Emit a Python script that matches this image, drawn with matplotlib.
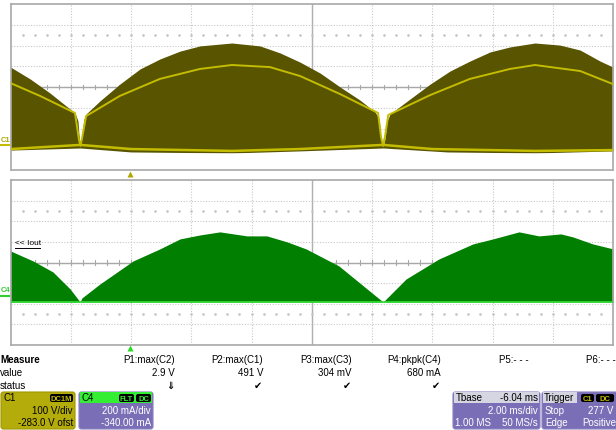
import matplotlib.pyplot as plt
from matplotlib.patches import FancyBboxPatch, Rectangle

plt.rcParams['font.family'] = ['Liberation Sans', 'DejaVu Sans']

# C1 (top): time in ms, voltage in V
c1_t = [0, 0.65, 1.31, 1.81, 2.14, 2.24, 2.27, 2.32, 2.37, 2.44, 2.51, 2.97, 3.63, 4.30,
        4.96, 5.63, 6.29, 7.35, 8.28, 8.95, 9.61, 10.28, 10.94, 11.60, 12.10, 12.24, 12.30,
        12.37, 12.43, 12.50, 12.60, 13.26, 13.93, 14.59, 15.25, 15.92, 16.58, 17.41, 18.24,
        18.91, 19.57, 20.0]
c1_hi = [379, 322, 254, 196, 158, 119, 57, -1, 57, 129, 153, 216, 297, 370,
         418, 456, 481, 495, 481, 447, 403, 350, 283, 220, 163, 129, 32,
         -1, 32, 119, 153, 225, 297, 360, 408, 452, 476, 495, 485,
         461, 408, 379]
c1_lo_t = [0, 2.32, 4.0, 7.35, 9.6, 12.37, 14.5, 17.41, 20.0]
c1_lo = [-21, -11, -30, -35, -25, -11, -30, -35, -25]
c1_avg_t = [0, 0.98, 2.14, 2.27, 2.32, 2.37, 2.51, 3.63, 4.96, 6.29, 7.35, 8.61, 9.61,
            10.94, 12.20, 12.30, 12.37, 12.43, 12.54, 13.93, 15.25, 16.58, 17.41, 18.91, 20.0]
c1_avg = [302, 240, 158, 32, -1, 32, 143, 240, 322, 370, 389, 379, 336,
          249, 158, 42, -1, 42, 148, 244, 322, 370, 389, 360, 297]
c1_base_t = [0, 2.32, 4.0, 7.35, 9.6, 12.37, 14.0, 17.41, 20.0]
c1_base = [-16, 4, -16, -25, -16, 4, -16, -25, -21]

# C4 (bottom): time in ms, current in mA
c4_t = [0, 0.75, 1.41, 1.98, 2.31, 2.37, 2.97, 4.07, 4.96, 5.63, 6.29, 6.95, 7.85, 8.51,
        9.18, 9.81, 10.90, 11.96, 12.37, 12.60, 13.13, 14.22, 15.35, 16.02, 16.88, 17.54,
        18.27, 18.67, 19.33, 20.0]
c4_hi = [495, 398, 291, 126, 0, 39, 175, 398, 515, 612, 650, 680, 641, 641,
         583, 515, 350, 97, 0, 68, 223, 417, 563, 612, 680, 641,
         660, 631, 563, 515]

measure_names = ['P1:max(C2)', 'P2:max(C1)', 'P3:max(C3)', 'P4:pkpk(C4)', 'P5:- - -', 'P6:- - -']
measure_values = ['2.9 V', '491 V', '304 mV', '680 mA', '', '']
measure_status = ['⇓', '✔', '✔', '✔', '', '']

W, H = 616, 431
fig = plt.figure(figsize=(W / 100, H / 100), dpi=100)


def rect(x0, y0, x1, y1):
    return [x0 / W, 1 - y1 / H, (x1 - x0) / W, (y1 - y0) / H]


olive = '#585400'
yellow = '#c4bc00'
green = '#007f00'
grid_c = '#c8c8c8'
frame_c = '#a8a8a8'


def scope_axes(r, ylim):
    ax = fig.add_axes(rect(*r))
    ax.set_xlim(0, 20)
    ax.set_ylim(*ylim)
    ax.set_xticks([])
    ax.set_yticks([])
    for s in ax.spines.values():
        s.set_color(frame_c)
        s.set_linewidth(1.2)
    y0, y1 = ylim
    dy = (y1 - y0) / 8
    for k in range(1, 10):
        ax.axvline(k * 2, color=grid_c, lw=0.8, ls=(0, (1, 1.5)), zorder=0)
    for k in range(1, 8):
        ax.axhline(y0 + k * dy, color=grid_c, lw=0.8, ls=(0, (1, 1.5)), zorder=0)
    yc = (y0 + y1) / 2
    ax.axhline(yc, color='#a8a8a8', lw=1, zorder=0)
    ax.axvline(10, color='#b0b0b0', lw=1, zorder=0)
    # minor ticks on the centre line
    for k in range(1, 50):
        ax.plot([k * 0.4, k * 0.4], [yc - dy * 0.1, yc + dy * 0.1], color='#a8a8a8', lw=0.8, zorder=0)
    for yy in (yc - 2.5 * dy, yc + 2.5 * dy):
        ax.plot([k * 0.4 for k in range(1, 50)], [yy] * 49, ls='none', marker='s',
                ms=0.8, color='#c4c4c4', zorder=0)
    return ax


ax1 = scope_axes((10.5, 5, 613, 171), (-117, 683))
ax1.fill_between(c1_t, c1_hi, [min(c1_lo)] * len(c1_t), color=olive, lw=0, zorder=2)
ax1.plot(c1_avg_t, c1_avg, color=yellow, lw=1.4, zorder=3)
ax1.plot(c1_base_t, c1_base, color=yellow, lw=1.8, zorder=3)
# white below the lower envelope
ax1.fill_between(c1_lo_t, c1_lo, [-117] * len(c1_lo_t), color='white', lw=0, zorder=2.5)

ax2 = scope_axes((10.5, 181, 613, 346), (-417, 1183))
ax2.fill_between(c4_t, c4_hi, 0, color=green, lw=0, zorder=2)
ax2.axhline(0, color='#33dd33', lw=1.2, zorder=3)

# overlay for labels and readout boxes
ov = fig.add_axes([0, 0, 1, 1], zorder=10)
ov.set_xlim(0, W)
ov.set_ylim(H, 0)
ov.axis('off')

ov.text(1, 141, 'C1', color='#b0a800', fontsize=5.5, fontweight='bold', va='center')
ov.plot([0, 9], [146, 146], color='#c4bc00', lw=1.5)
ov.text(1, 291, 'C4', color='#33cc33', fontsize=5.5, fontweight='bold', va='center')
ov.plot([0, 9], [297, 297], color='#33cc33', lw=1.5)
ov.text(15, 247, '<< Iout', fontsize=6, va='bottom')
ov.plot([15, 40], [248.5, 248.5], color='black', lw=0.7)
ov.plot([130], [174.5], marker='^', ms=5, color='#b0a800', mec='none')
ov.plot([130], [349], marker='^', ms=5, color='#22dd22', mec='none')

fs = 7
ov.text(0, 360, 'Measure', fontsize=fs, fontweight='bold', va='center')
ov.text(0, 373, 'value', fontsize=fs, va='center')
ov.text(0, 386, 'status', fontsize=fs, va='center')
col_x = [175, 263, 352, 441, 529, 616]
for x, name, val, st in zip(col_x, measure_names, measure_values, measure_status):
    ov.text(x, 360, name, fontsize=fs, ha='right', va='center')
    ov.text(x, 373, val, fontsize=fs, ha='right', va='center')
    ov.text(x - 5, 386, st, fontsize=fs, ha='center', va='center', fontweight='bold')


def panel(x0, x1, body, edge, header=None, hx1=None):
    ov.add_patch(FancyBboxPatch((x0, 393), x1 - x0, 37, boxstyle='round,pad=0,rounding_size=2.5',
                                fc=body, ec=edge, lw=0.8))
    if header:
        ov.add_patch(Rectangle((x0 + 1, 393.5), (hx1 or x1) - x0 - 2, 10.5, fc=header, ec='none'))


def badge(x0, x1, txt, color):
    ov.add_patch(FancyBboxPatch((x0, 395), x1 - x0, 8, boxstyle='round,pad=0,rounding_size=2',
                                fc='black', ec='none'))
    ov.text((x0 + x1) / 2, 399.3, txt, fontsize=5.5, color=color, ha='center', va='center',
            fontweight='bold')


panel(1, 75, '#b4ac0a', '#a09800')
ov.text(4, 398.5, 'C1', fontsize=fs, va='center')
badge(50, 73, 'DC1M', '#c4bc00')
ov.text(73, 411, '100 V/div', fontsize=fs, ha='right', va='center')
ov.text(73, 423.5, '-283.0 V ofst', fontsize=fs, ha='right', va='center')

panel(79, 153, '#7a6fb6', '#8a80c0', '#33ee33')
ov.text(82, 398.5, 'C4', fontsize=fs, va='center')
badge(119, 134, 'FLT', '#33ee33')
badge(136, 151, 'DC', '#33ee33')
ov.text(151, 411, '200 mA/div', fontsize=fs, ha='right', va='center', color='white')
ov.text(151, 423.5, '-340.00 mA', fontsize=fs, ha='right', va='center', color='white')

panel(453, 540, '#7a6fb6', '#8a80c0', '#d6d6e2')
ov.text(456, 398.5, 'Tbase', fontsize=fs, va='center')
ov.text(538, 398.5, '-6.04 ms', fontsize=fs, ha='right', va='center')
ov.text(538, 411, '2.00 ms/div', fontsize=fs, ha='right', va='center', color='white')
ov.text(455, 423.5, '1.00 MS', fontsize=fs, va='center', color='white')
ov.text(538, 423.5, '50 MS/s', fontsize=fs, ha='right', va='center', color='white')

panel(542, 622, '#7a6fb6', '#8a80c0', '#d6d6e2', hx1=578)
ov.text(544, 398.5, 'Trigger', fontsize=fs, va='center')
badge(581, 594, 'C1', '#c4bc00')
badge(596, 614, 'DC', '#c4bc00')
ov.text(545, 411, 'Stop', fontsize=fs, va='center', color='white')
ov.text(613, 411, '277 V', fontsize=fs, ha='right', va='center', color='white')
ov.text(545, 423.5, 'Edge', fontsize=fs, va='center', color='white')
ov.text(616, 423.5, 'Positive', fontsize=fs, ha='right', va='center', color='white')

fig.savefig('out.png', dpi=100)
